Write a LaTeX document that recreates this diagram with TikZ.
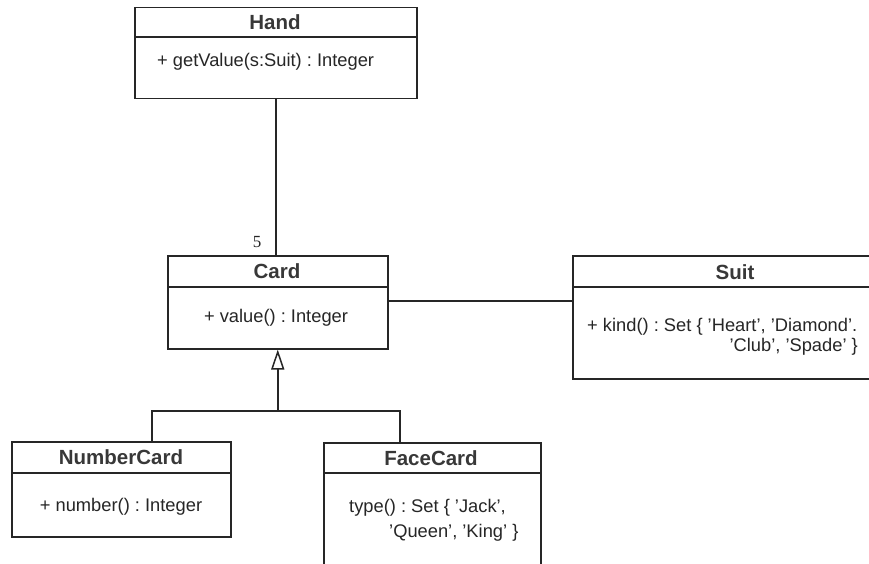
\documentclass[tikz,border=0pt]{standalone}
\usepackage{fontspec}
\setmainfont{Liberation Sans}
\newfontfamily\numfont{Liberation Serif}
\usetikzlibrary{arrows.meta}
\frenchspacing

\tikzset{
  cls/.style={draw=black!85, line width=1.5pt, fill=white, rectangle, inner sep=0pt, anchor=north west},
  sep/.style={draw=black!85, line width=1.5pt},
  title/.style={font=\fontsize{20.5}{24}\selectfont\bfseries, text=black!78, inner sep=0pt},
  member/.style={font=\fontsize{18.3}{22}\selectfont, text=black!85, inner sep=0pt},
  link/.style={draw=black!85, line width=1.5pt},
  inherit/.style={link, -{Triangle[open, length=20pt, width=13pt, line width=1.5pt]}},
  mult/.style={font=\numfont\fontsize{17}{20}\selectfont, text=black!85, inner sep=0pt}
}

\begin{document}
\begin{tikzpicture}[x=1pt, y=1pt]
  \useasboundingbox (0,0) rectangle (869,-564);
  \clip (0,0) rectangle (869,-564);
  \fill[white] (0,0) rectangle (869,-564);

  % class boxes
  \node[cls, minimum width=282pt, minimum height=91pt]  (hand)   at (134,-7)   {};
  \node[cls, minimum width=220pt, minimum height=93pt]  (card)   at (167,-255) {};
  \node[cls, minimum width=330pt, minimum height=123pt] (suit)   at (572,-255) {};
  \node[cls, minimum width=219pt, minimum height=95pt]  (number) at (11,-441)  {};
  \node[cls, minimum width=217pt, minimum height=160pt] (face)   at (323,-442) {};

  % compartment separators
  \draw[sep] ([yshift=-30pt]hand.north west)   -- ([yshift=-30pt]hand.north east);
  \draw[sep] ([yshift=-32pt]card.north west)   -- ([yshift=-32pt]card.north east);
  \draw[sep] ([yshift=-32pt]suit.north west)   -- ([yshift=-32pt]suit.north east);
  \draw[sep] ([yshift=-32pt]number.north west) -- ([yshift=-32pt]number.north east);
  \draw[sep] ([yshift=-31pt]face.north west)   -- ([yshift=-31pt]face.north east);

  % class names
  \node[title] (handT)   at (275,-22)  {Hand};
  \node[title] (cardT)   at (277,-271) {Card};
  \node[title] (suitT)   at (735,-272) {Suit};
  \node[title] (numberT) at (121,-457) {NumberCard};
  \node[title] (faceT)   at (431,-458) {FaceCard};

  % operations
  \node[member, anchor=west] (handOp) at (157,-62) {+ getValue(s:Suit) : Integer};
  \node[member] (cardOp)   at (276,-318) {+ value() : Integer};
  \node[member, anchor=west] (suitOpA) at (587,-327) {+ kind() : Set \{ 'Heart', 'Diamond'.};
  \node[member, anchor=east] (suitOpB) at (858,-347) {'Club', 'Spade' \}};
  \node[member] (numberOp) at (121,-507) {+ number() : Integer};
  \node[member, anchor=west] (faceOpA) at (349,-508) {type() : Set \{ 'Jack',};
  \node[member, anchor=west] (faceOpB) at (389,-533) {'Queen', 'King' \}};

  % associations
  \draw[link] (hand.south) -- (hand.south |- card.north);
  \draw[link] (card.east |- 0,-301) -- (suit.west |- 0,-301);
  \node[mult] (multFive) at (257,-242) {5};

  % generalisation tree
  \coordinate (split) at (card.south |- 0,-411);
  \draw[inherit] (split) -- (card.south);
  \draw[link] ([xshift=141pt]number.north west) |- (split) -| ([xshift=77pt]face.north west);
\end{tikzpicture}
\end{document}
